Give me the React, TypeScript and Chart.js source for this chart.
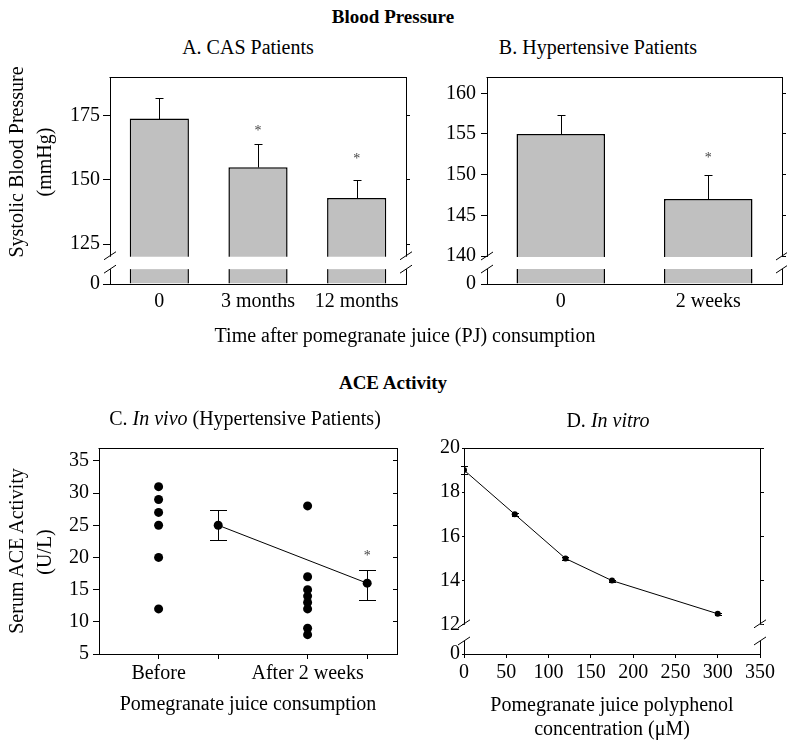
import React, { useEffect, useRef } from 'react';
import { Chart, registerables } from 'chart.js';

Chart.register(...registerables);

const SERIF = "'Liberation Serif', 'Times New Roman', serif";

// ---------- Panel A: CAS patients ----------
const casCategories = ['0', '3 months', '12 months'];
const casSystolic = [174, 155, 143];
const casSystolicErr = [8, 9, 7];
const casStarAt = [NaN, 170, 159];
const casTicks = [125, 150, 175];

// ---------- Panel B: Hypertensive patients ----------
const htnCategories = ['0', '2 weeks'];
const htnSystolic = [155, 147];
const htnSystolicErr = [2.3, 3];
const htnStarAt = [NaN, 152.3];
const htnTicks = [140, 145, 150, 155, 160];

// ---------- Panel C: In vivo ----------
const inVivoTickPos = [1, 2, 3.5, 4.5];
const inVivoTickLabels = ['Before', '', 'After 2 weeks', ''];
const aceBefore = [31, 29, 27, 25, 20, 12];
const aceAfter = [28, 17, 15, 14, 13, 12, 9, 8];
const aceMeanPos = [2, 4.5];
const aceMeans = [25, 16];
const aceMeanErrUp = [2.3, 2.0];
const aceMeanErrDown = [2.3, 2.6];
const aceStarAt = [NaN, 20.6];
const inVivoTicks = [5, 10, 15, 20, 25, 30, 35];

// ---------- Panel D: In vitro ----------
const polyphenolUM = [0, 60, 120, 175, 300];
const aceInVitro = [19, 17, 15, 14, 12.5];
const aceInVitroErr = [0.17, 0.06, 0.06, 0.05, 0.04];
const inVitroYTicks = [12, 14, 16, 18, 20];
const inVitroXTicks = [0, 50, 100, 150, 200, 250, 300, 350];

const tickFont = { family: SERIF, size: 20 };
const xTitleFont = { family: SERIF, size: 20, lineHeight: 1.2 };

function fixSize(w?: number, h?: number) {
  return (s: any) => {
    if (w !== undefined) s.width = w;
    if (h !== undefined) s.height = h;
    s.paddingTop = 0;
    s.paddingBottom = 0;
    s.paddingLeft = 0;
    s.paddingRight = 0;
  };
}

function tickSet(values: number[], fakeZeroAt?: number) {
  return (s: any) => {
    const v = fakeZeroAt !== undefined ? [fakeZeroAt, ...values] : values;
    s.ticks = v.map((value) => ({ value }));
  };
}

function zeroLabel(min: number) {
  return (v: any) => (v === min ? '0' : String(v));
}

const topFrame = {
  id: 'topFrame',
  afterDatasetsDraw(chart: any) {
    const { ctx, chartArea: a } = chart;
    const y = Math.round(a.top - 0.5) + 0.5;
    ctx.save();
    ctx.strokeStyle = '#000';
    ctx.lineWidth = 1;
    ctx.beginPath();
    ctx.moveTo(a.left - 0.5, y);
    ctx.lineTo(a.right + 0.5, y);
    ctx.stroke();
    ctx.restore();
  },
};

function errorBarPlugin(o: { dataset: number; values: number[]; up: number[]; down: number[]; cap: number }) {
  return {
    id: 'errorBars',
    afterDatasetsDraw(chart: any) {
      const { ctx } = chart;
      const meta = chart.getDatasetMeta(o.dataset);
      const y = chart.scales[meta.yAxisID];
      ctx.save();
      ctx.strokeStyle = '#000';
      ctx.lineWidth = 1;
      o.values.forEach((v, i) => {
        const el = meta.data[i];
        if (!el) return;
        const x = Math.round(el.x) + 0.5;
        const yHi = Math.round(y.getPixelForValue(v + o.up[i])) + 0.5;
        const yLo = Math.round(y.getPixelForValue(v - o.down[i])) + 0.5;
        ctx.beginPath();
        ctx.moveTo(x, yLo);
        ctx.lineTo(x, yHi);
        ctx.moveTo(x - o.cap / 2, yHi);
        ctx.lineTo(x + o.cap / 2, yHi);
        if (o.down[i] > 0) {
          ctx.moveTo(x - o.cap / 2, yLo);
          ctx.lineTo(x + o.cap / 2, yLo);
        }
        ctx.stroke();
      });
      ctx.restore();
    },
  };
}

function starPlugin(o: { dataset: number; at: number[] }) {
  return {
    id: 'stars',
    afterDatasetsDraw(chart: any) {
      const { ctx } = chart;
      const meta = chart.getDatasetMeta(o.dataset);
      const y = chart.scales[meta.yAxisID];
      ctx.save();
      ctx.fillStyle = '#444';
      ctx.font = `14px ${SERIF}`;
      ctx.textAlign = 'center';
      ctx.textBaseline = 'alphabetic';
      o.at.forEach((v, i) => {
        if (isNaN(v) || !meta.data[i]) return;
        ctx.fillText('*', meta.data[i].x, y.getPixelForValue(v) + 6);
      });
      ctx.restore();
    },
  };
}

function breakPlugin(hi: number, lo: number) {
  return {
    id: 'axisBreak',
    afterDraw(chart: any) {
      const { ctx, chartArea: a } = chart;
      const y = chart.scales.y;
      const yt = y.getPixelForValue(hi);
      const yb = y.getPixelForValue(lo);
      ctx.save();
      ctx.fillStyle = '#fff';
      ctx.fillRect(a.left - 3, yt, a.right - a.left + 6, yb - yt);
      ctx.strokeStyle = '#000';
      ctx.lineWidth = 1;
      for (const x of [a.left, a.right]) {
        for (const yy of [yt - 1, yb]) {
          ctx.beginPath();
          ctx.moveTo(x - 6, yy + 4);
          ctx.lineTo(x + 6, yy - 4);
          ctx.stroke();
        }
      }
      ctx.restore();
    },
  };
}

const baseOptions = (padTop: number) => ({
  responsive: false,
  animation: false as const,
  events: [] as any[],
  layout: { padding: { top: padTop, left: 0, right: 0, bottom: 0 } },
  plugins: { legend: { display: false }, tooltip: { enabled: false } },
});

function barPanel(o: {
  labels: string[];
  values: number[];
  errs: number[];
  stars: number[];
  ticks: number[];
  min: number;
  max: number;
  breakHi: number;
  breakLo: number;
  leftW: number;
  rightW: number;
  leftTick: number;
  leftPad: number;
}) {
  return {
    type: 'bar',
    data: {
      labels: o.labels,
      datasets: [
        {
          data: o.values,
          backgroundColor: '#c0c0c0',
          borderColor: '#000',
          borderWidth: 1.5,
          barPercentage: 0.6,
          categoryPercentage: 1,
          base: o.min,
          yAxisID: 'y',
        },
      ],
    },
    options: {
      ...baseOptions(15),
      scales: {
        x: {
          type: 'category',
          offset: true,
          grid: { display: false, drawTicks: false },
          border: { display: true, color: '#000', width: 1, z: 1 },
          ticks: { font: tickFont, color: '#000', padding: 6, autoSkip: false, maxRotation: 0 },
          afterFit: fixSize(undefined, 41),
        },
        y: {
          type: 'linear',
          position: 'left',
          min: o.min,
          max: o.max,
          afterBuildTicks: tickSet(o.ticks, o.min),
          ticks: { font: tickFont, color: '#000', padding: o.leftPad, callback: zeroLabel(o.min) },
          grid: { drawOnChartArea: false, drawTicks: true, tickLength: o.leftTick, color: '#000' },
          border: { display: true, color: '#000', z: 1 },
          afterFit: fixSize(o.leftW),
        },
        yr: {
          type: 'linear',
          position: 'right',
          min: o.min,
          max: o.max,
          afterBuildTicks: tickSet(o.ticks),
          ticks: { display: false },
          grid: { drawOnChartArea: false, drawTicks: true, tickLength: 4, color: '#000' },
          border: { display: true, color: '#000', z: 1 },
          afterFit: fixSize(o.rightW),
        },
      },
    },
    plugins: [
      topFrame,
      errorBarPlugin({ dataset: 0, values: o.values, up: o.errs, down: o.errs.map(() => 0), cap: 8 }),
      starPlugin({ dataset: 0, at: o.stars }),
      breakPlugin(o.breakHi, o.breakLo),
    ],
  };
}

const makeA = () =>
  barPanel({
    labels: casCategories,
    values: casSystolic,
    errs: casSystolicErr,
    stars: casStarAt,
    ticks: casTicks,
    min: 109.4,
    max: 190.2,
    breakHi: 120.04,
    breakLo: 115.2,
    leftW: 110,
    rightW: 14,
    leftTick: 7,
    leftPad: 3,
  });

const makeB = () =>
  barPanel({
    labels: htnCategories,
    values: htnSystolic,
    errs: htnSystolicErr,
    stars: htnStarAt,
    ticks: htnTicks,
    min: 136.56,
    max: 162.0,
    breakHi: 139.88,
    breakLo: 138.4,
    leftW: 67,
    rightW: 5,
    leftTick: 6,
    leftPad: 5,
  });

const makeC = () => {
  const dot = { pointRadius: 4.5, backgroundColor: '#000', borderColor: '#000', pointBorderWidth: 0, showLine: false };
  return {
    type: 'scatter',
    data: {
      datasets: [
        { ...dot, data: aceBefore.map((v) => ({ x: inVivoTickPos[0], y: v })) },
        { ...dot, data: aceAfter.map((v) => ({ x: inVivoTickPos[2], y: v })) },
        {
          ...dot,
          showLine: true,
          borderWidth: 1,
          data: aceMeans.map((v, i) => ({ x: aceMeanPos[i], y: v })),
        },
      ],
    },
    options: {
      ...baseOptions(18),
      scales: {
        x: {
          type: 'linear',
          min: 0,
          max: 5,
          afterBuildTicks: tickSet(inVivoTickPos),
          ticks: {
            font: tickFont,
            color: '#000',
            padding: 3,
            autoSkip: false,
            maxRotation: 0,
            callback: (v: any) => inVivoTickLabels[inVivoTickPos.indexOf(v)] ?? '',
          },
          grid: { drawOnChartArea: false, drawTicks: true, tickLength: 5, color: '#000' },
          border: { display: true, color: '#000', z: 1 },
          title: { display: true, text: 'Pomegranate juice consumption', font: xTitleFont, color: '#000', padding: { top: 0, bottom: 3 } },
          afterFit: fixSize(undefined, 66),
        },
        y: {
          type: 'linear',
          position: 'left',
          min: 5,
          max: 37,
          afterBuildTicks: tickSet(inVivoTicks),
          ticks: { font: tickFont, color: '#000', padding: 4 },
          grid: { drawOnChartArea: false, drawTicks: true, tickLength: 6, color: '#000' },
          border: { display: true, color: '#000', z: 1 },
          afterFit: fixSize(99),
        },
        yr: {
          type: 'linear',
          position: 'right',
          min: 5,
          max: 37,
          afterBuildTicks: tickSet(inVivoTicks),
          ticks: { display: false },
          grid: { drawOnChartArea: false, drawTicks: true, tickLength: -4, color: '#000' },
          border: { display: true, color: '#000', z: 1 },
          afterFit: fixSize(13),
        },
      },
    },
    plugins: [
      topFrame,
      errorBarPlugin({ dataset: 2, values: aceMeans, up: aceMeanErrUp, down: aceMeanErrDown, cap: 17 }),
      starPlugin({ dataset: 2, at: aceStarAt }),
    ],
  };
};

const makeD = () => {
  const yMin = 10.68;
  return {
    type: 'scatter',
    data: {
      datasets: [
        {
          data: polyphenolUM.map((x, i) => ({ x, y: aceInVitro[i] })),
          showLine: true,
          borderColor: '#000',
          borderWidth: 1,
          pointRadius: 3,
          pointBorderWidth: 0,
          backgroundColor: '#000',
        },
      ],
    },
    options: {
      ...baseOptions(18),
      scales: {
        x: {
          type: 'linear',
          min: 0,
          max: 350,
          afterBuildTicks: tickSet(inVitroXTicks),
          ticks: { font: tickFont, color: '#000', padding: 3, autoSkip: false, maxRotation: 0 },
          grid: { drawOnChartArea: false, drawTicks: true, tickLength: 4, color: '#000' },
          border: { display: true, color: '#000', z: 1 },
          title: {
            display: true,
            text: ['Pomegranate juice polyphenol', 'concentration (\u03bcM)'],
            font: xTitleFont,
            color: '#000',
            padding: { top: 0, bottom: 3 },
          },
          afterFit: fixSize(undefined, 91),
        },
        y: {
          type: 'linear',
          position: 'left',
          min: yMin,
          max: 20,
          afterBuildTicks: tickSet(inVitroYTicks, yMin),
          ticks: { font: tickFont, color: '#000', padding: 2, callback: zeroLabel(yMin) },
          grid: { drawOnChartArea: false, drawTicks: true, tickLength: 2, color: '#000' },
          border: { display: true, color: '#000', z: 1 },
          afterFit: fixSize(44),
        },
        yr: {
          type: 'linear',
          position: 'right',
          min: yMin,
          max: 20,
          afterBuildTicks: tickSet(inVitroYTicks),
          ticks: { display: false },
          grid: { drawOnChartArea: false, drawTicks: true, tickLength: 4, color: '#000' },
          border: { display: true, color: '#000', z: 1 },
          afterFit: fixSize(27),
        },
      },
    },
    plugins: [
      topFrame,
      errorBarPlugin({ dataset: 0, values: aceInVitro, up: aceInVitroErr, down: aceInVitroErr, cap: 7 }),
      breakPlugin(12.0, 11.27),
    ],
  };
};

function ChartCanvas(props: { make: () => any; left: number; top: number; width: number; height: number }) {
  const ref = useRef<HTMLCanvasElement>(null);
  useEffect(() => {
    const chart = new Chart(ref.current as HTMLCanvasElement, props.make());
    return () => chart.destroy();
  }, []);
  return (
    <canvas
      ref={ref}
      width={props.width}
      height={props.height}
      style={{ position: 'absolute', left: props.left, top: props.top, width: props.width, height: props.height }}
    />
  );
}

function Label(props: { cx: number; cy: number; bold?: boolean; size?: number; vertical?: boolean; children: any }) {
  const size = props.size ?? 20;
  return (
    <div
      style={{
        position: 'absolute',
        left: props.cx - 250,
        width: 500,
        top: props.cy - 12,
        height: 24,
        lineHeight: '24px',
        textAlign: 'center',
        whiteSpace: 'nowrap',
        fontSize: size,
        fontWeight: props.bold ? 'bold' : 'normal',
        transform: props.vertical ? 'rotate(-90deg)' : undefined,
        transformOrigin: '50% 50%',
      }}
    >
      {props.children}
    </div>
  );
}

export default function App() {
  return (
    <div
      style={{
        position: 'absolute',
        left: 0,
        top: 0,
        width: 787,
        height: 745,
        background: '#fff',
        color: '#000',
        fontFamily: SERIF,
        overflow: 'hidden',
      }}
    >
      <Label cx={393} cy={17} bold size={19}>Blood Pressure</Label>
      <Label cx={248} cy={47}>A. CAS Patients</Label>
      <Label cx={598} cy={47}>B. Hypertensive Patients</Label>
      <ChartCanvas make={makeA} left={0} top={62} width={420} height={263} />
      <ChartCanvas make={makeB} left={420} top={62} width={367} height={263} />
      <Label cx={16} cy={162} vertical>Systolic Blood Pressure</Label>
      <Label cx={44} cy={162} vertical>(mmHg)</Label>
      <Label cx={405} cy={335}>Time after pomegranate juice (PJ) consumption</Label>
      <Label cx={393} cy={383} bold size={19}>ACE Activity</Label>
      <Label cx={245} cy={418}>
        C. <i>In vivo</i> (Hypertensive Patients)
      </Label>
      <Label cx={608} cy={420}>
        D. <i>In vitro</i>
      </Label>
      <ChartCanvas make={makeC} left={0} top={430} width={410} height={290} />
      <ChartCanvas make={makeD} left={420} top={430} width={367} height={315} />
      <Label cx={16} cy={551} vertical>Serum ACE Activity</Label>
      <Label cx={44} cy={552} vertical>(U/L)</Label>
    </div>
  );
}
